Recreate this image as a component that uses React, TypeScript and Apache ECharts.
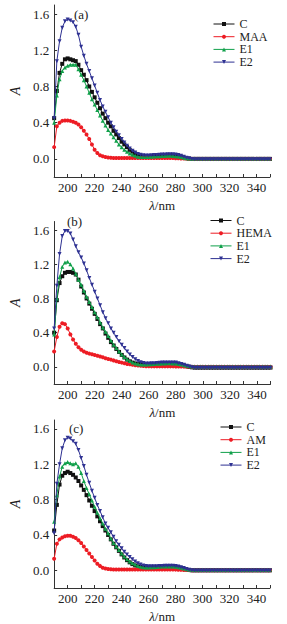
import React, { useEffect, useRef } from "react";
import * as echarts from "echarts";

const wavelengths = [190,192,194,196,198,200,202,204,206,208,210,212,214,216,218,220,222,224,226,228,230,232,234,236,238,240,242,244,246,248,250,252,254,256,258,260,262,264,266,268,270,272,274,276,278,280,282,284,286,288,290,292,294,296,298,300,302,304,306,308,310,312,314,316,318,320,322,324,326,328,330,332,334,336,338,340,342,344,346,348,350];

const xLabels = [200, 220, 240, 260, 280, 300, 320, 340];
const yLabels = [0, 0.4, 0.8, 1.2, 1.6];

// Panel (a)
const aC = [0.45,0.75,0.95,1.05,1.10,1.11,1.10,1.09,1.08,1.04,0.98,0.93,0.87,0.80,0.74,0.68,0.62,0.56,0.50,0.45,0.40,0.36,0.31,0.27,0.23,0.19,0.16,0.13,0.10,0.08,0.06,0.045,0.035,0.03,0.03,0.03,0.032,0.034,0.036,0.038,0.04,0.04,0.042,0.042,0.04,0.038,0.032,0.025,0.016,0.008,0.003,0,0,0,0,0,0,0,0,0,0,0,0,0,0,0,0,0,0,0,0,0,0,0,0,0,0,0,0,0,0];
const aMAA = [0.13,0.36,0.40,0.42,0.425,0.425,0.42,0.41,0.40,0.38,0.35,0.31,0.27,0.22,0.16,0.10,0.065,0.04,0.03,0.02,0.015,0.012,0.01,0.01,0.01,0.01,0.01,0.01,0.01,0.01,0.01,0.01,0.01,0.01,0.01,0.01,0.01,0.01,0.01,0.01,0.01,0.01,0.01,0.01,0.01,0.008,0.006,0.005,0.004,0.003,0.002,0,0,0,0,0,0,0,0,0,0,0,0,0,0,0,0,0,0,0,0,0,0,0,0,0,0,0,0,0,0];
const aE1 = [0.40,0.70,0.88,0.97,1.01,1.03,1.04,1.04,1.04,0.99,0.93,0.87,0.80,0.73,0.66,0.60,0.54,0.48,0.42,0.37,0.32,0.28,0.24,0.20,0.16,0.13,0.10,0.08,0.06,0.045,0.035,0.025,0.02,0.02,0.02,0.022,0.024,0.026,0.028,0.03,0.032,0.033,0.034,0.034,0.033,0.03,0.026,0.02,0.014,0.008,0.004,0.002,0.003,0.003,0.003,0.003,0.003,0.003,0.003,0.003,0.003,0.003,0.003,0.003,0.003,0.003,0.003,0.003,0.003,0.003,0.003,0.003,0.003,0.003,0.003,0.003,0.003,0.003,0.003,0.003,0.003];
const aE2 = [0.45,1.08,1.30,1.45,1.52,1.54,1.53,1.51,1.46,1.37,1.24,1.14,1.05,0.97,0.89,0.81,0.73,0.65,0.58,0.52,0.46,0.40,0.35,0.30,0.26,0.22,0.18,0.145,0.115,0.09,0.07,0.055,0.045,0.04,0.038,0.038,0.04,0.042,0.044,0.046,0.048,0.049,0.05,0.05,0.05,0.048,0.042,0.034,0.024,0.014,0.006,0,-0.004,-0.004,-0.004,-0.004,-0.004,-0.004,-0.004,-0.004,-0.004,-0.004,-0.004,-0.004,-0.004,-0.004,-0.004,-0.004,-0.004,-0.004,-0.004,-0.004,-0.004,-0.004,-0.004,-0.004,-0.004,-0.004,-0.004,-0.004,-0.004];

// Panel (b)
const bC = [0.40,0.78,0.98,1.06,1.10,1.11,1.11,1.10,1.08,1.02,0.94,0.87,0.80,0.74,0.68,0.62,0.56,0.50,0.45,0.39,0.34,0.29,0.25,0.21,0.175,0.14,0.11,0.085,0.065,0.05,0.04,0.032,0.028,0.027,0.028,0.03,0.032,0.034,0.036,0.038,0.04,0.041,0.042,0.042,0.041,0.039,0.034,0.026,0.017,0.008,0,-0.005,-0.008,-0.008,-0.008,-0.008,-0.008,-0.008,-0.008,-0.008,-0.008,-0.008,-0.008,-0.008,-0.008,-0.008,-0.008,-0.008,-0.008,-0.008,-0.008,-0.008,-0.008,-0.008,-0.008,-0.008,-0.008,-0.008,-0.008,-0.008,-0.008];
const bHEMA = [0.18,0.35,0.47,0.51,0.50,0.45,0.38,0.32,0.27,0.23,0.20,0.18,0.165,0.155,0.148,0.14,0.13,0.122,0.112,0.102,0.093,0.085,0.076,0.067,0.058,0.05,0.042,0.035,0.03,0.025,0.02,0.016,0.013,0.01,0.008,0.007,0.006,0.006,0.006,0.006,0.006,0.006,0.006,0.006,0.006,0.005,0.005,0.004,0.003,0.002,0.001,0,0,0,0,0,0,0,0,0,0,0,0,0,0,0,0,0,0,0,0,0,0,0,0,0,0,0,0,0,0];
const bE1 = [0.38,0.80,1.05,1.17,1.22,1.23,1.20,1.15,1.09,1.02,0.96,0.89,0.82,0.76,0.70,0.64,0.58,0.52,0.46,0.41,0.36,0.31,0.26,0.22,0.18,0.145,0.115,0.09,0.07,0.05,0.04,0.032,0.028,0.027,0.028,0.03,0.032,0.034,0.036,0.038,0.04,0.041,0.042,0.042,0.041,0.039,0.034,0.027,0.019,0.012,0.007,0.005,0.005,0.005,0.005,0.005,0.005,0.005,0.005,0.005,0.005,0.005,0.005,0.005,0.005,0.005,0.005,0.005,0.005,0.005,0.005,0.005,0.005,0.005,0.005,0.005,0.005,0.005,0.005,0.005,0.005];
const bE2 = [0.45,0.95,1.32,1.53,1.59,1.59,1.56,1.49,1.41,1.34,1.28,1.21,1.13,1.04,0.96,0.88,0.80,0.72,0.64,0.57,0.51,0.45,0.40,0.35,0.30,0.26,0.22,0.18,0.145,0.115,0.09,0.07,0.055,0.045,0.04,0.04,0.042,0.044,0.046,0.048,0.05,0.051,0.052,0.052,0.052,0.05,0.044,0.035,0.025,0.014,0.005,-0.005,-0.01,-0.01,-0.01,-0.01,-0.01,-0.01,-0.01,-0.01,-0.01,-0.01,-0.01,-0.01,-0.01,-0.01,-0.01,-0.01,-0.01,-0.01,-0.01,-0.01,-0.01,-0.01,-0.01,-0.01,-0.01,-0.01,-0.01,-0.01,-0.01];

// Panel (c)
const cC = [0.45,0.74,0.97,1.07,1.10,1.115,1.10,1.08,1.05,1.01,0.96,0.91,0.85,0.79,0.73,0.67,0.61,0.555,0.50,0.45,0.40,0.35,0.30,0.26,0.22,0.18,0.145,0.115,0.09,0.07,0.055,0.045,0.037,0.033,0.032,0.033,0.034,0.036,0.038,0.04,0.042,0.043,0.044,0.044,0.043,0.04,0.035,0.027,0.018,0.01,0.004,0,0,0,0,0,0,0,0,0,0,0,0,0,0,0,0,0,0,0,0,0,0,0,0,0,0,0,0,0,0];
const cAM = [0.13,0.30,0.35,0.37,0.385,0.39,0.39,0.38,0.365,0.34,0.31,0.27,0.23,0.19,0.15,0.11,0.075,0.05,0.03,0.02,0.015,0.012,0.01,0.01,0.01,0.01,0.01,0.01,0.01,0.01,0.01,0.01,0.01,0.01,0.01,0.01,0.01,0.01,0.01,0.01,0.01,0.01,0.01,0.01,0.01,0.008,0.006,0.005,0.004,0.003,0.002,0,0,0,0,0,0,0,0,0,0,0,0,0,0,0,0,0,0,0,0,0,0,0,0,0,0,0,0,0,0];
const cE1 = [0.55,0.85,1.06,1.17,1.21,1.225,1.21,1.20,1.21,1.17,1.10,1.01,0.93,0.86,0.79,0.72,0.65,0.59,0.53,0.47,0.42,0.36,0.31,0.27,0.23,0.19,0.155,0.125,0.10,0.08,0.065,0.05,0.04,0.035,0.033,0.033,0.034,0.036,0.038,0.04,0.042,0.043,0.044,0.044,0.043,0.04,0.035,0.028,0.02,0.012,0.007,0.005,0.005,0.005,0.005,0.005,0.005,0.005,0.005,0.005,0.005,0.005,0.005,0.005,0.005,0.005,0.005,0.005,0.005,0.005,0.005,0.005,0.005,0.005,0.005,0.005,0.005,0.005,0.005,0.005,0.005];
const cE2 = [0.42,0.98,1.20,1.38,1.47,1.50,1.49,1.46,1.43,1.36,1.27,1.18,1.08,0.99,0.90,0.82,0.74,0.67,0.60,0.53,0.48,0.43,0.38,0.33,0.29,0.25,0.21,0.18,0.15,0.125,0.10,0.08,0.065,0.055,0.048,0.045,0.045,0.046,0.047,0.048,0.05,0.051,0.052,0.052,0.052,0.05,0.044,0.035,0.025,0.014,0.006,0,-0.003,-0.003,-0.003,-0.003,-0.003,-0.003,-0.003,-0.003,-0.003,-0.003,-0.003,-0.003,-0.003,-0.003,-0.003,-0.003,-0.003,-0.003,-0.003,-0.003,-0.003,-0.003,-0.003,-0.003,-0.003,-0.003,-0.003,-0.003,-0.003];

const panels = [
  { label: "(a)", names: ["C", "MAA", "E1", "E2"], values: [aC, aMAA, aE1, aE2] },
  { label: "(b)", names: ["C", "HEMA", "E1", "E2"], values: [bC, bHEMA, bE1, bE2] },
  { label: "(c)", names: ["C", "AM", "E1", "E2"], values: [cC, cAM, cE1, cE2] },
];

const colors = ["#111111", "#ed1c24", "#10a04a", "#2e3192"];
const symbols = ["rect", "circle", "triangle", "triangle"];
const rotates = [0, 0, 0, 180];

// layout per panel
const grids = [
  { left: 38, top: 5, width: 232, height: 172 },
  { left: 38.5, top: 221.5, width: 232, height: 162.5 },
  { left: 37, top: 420, width: 233, height: 170 },
];
const legendPos = [
  { left: 213, top: 18 },
  { left: 210, top: 214.5 },
  { left: 220, top: 421 },
];
const labelPos = [
  { left: 74, top: 8 },
  { left: 67, top: 215 },
  { left: 69, top: 422 },
];

const FONT = "'Liberation Serif', 'Times New Roman', serif";

export default function App() {
  const ref = useRef<HTMLDivElement>(null);
  useEffect(() => {
    if (!ref.current) return;
    const chart = echarts.init(ref.current, null, { renderer: "svg" });
    const option: any = {
      animation: false,
      backgroundColor: "#ffffff",
      grid: grids.map((g) => ({ ...g, containLabel: false })),
      xAxis: grids.map((_, i) => ({
        type: "value",
        gridIndex: i,
        min: 190,
        max: 350,
        interval: 10,
        axisLine: { show: true, onZero: false, lineStyle: { color: "#333", width: 1 } },
        axisTick: { show: true, inside: true, length: 3, lineStyle: { color: "#333" } },
        axisLabel: {
          margin: 4,
          fontSize: 13,
          fontFamily: FONT,
          color: "#222",
          formatter: (v: number) => (xLabels.indexOf(Math.round(v)) >= 0 ? String(Math.round(v)) : ""),
        },
        splitLine: { show: false },
        name: "{i|λ}/nm",
        nameLocation: "middle",
        nameGap: 22,
        nameTextStyle: {
          fontSize: 13,
          fontFamily: FONT,
          color: "#222",
          rich: { i: { fontSize: 13, fontFamily: FONT, fontStyle: "italic", color: "#222" } },
        },
      })),
      yAxis: grids.map((_, i) => ({
        type: "value",
        gridIndex: i,
        min: -0.2,
        max: 1.7,
        axisLine: { show: true, onZero: false, lineStyle: { color: "#333", width: 1 } },
        axisTick: { show: true, inside: true, length: 3, customValues: yLabels, lineStyle: { color: "#333" } },
        axisLabel: {
          customValues: yLabels,
          margin: 5,
          fontSize: 13,
          fontFamily: FONT,
          color: "#222",
          formatter: (v: number) => v.toFixed(1),
        },
        splitLine: { show: false },
        name: "A",
        nameLocation: "middle",
        nameGap: 26,
        nameRotate: 90,
        nameTextStyle: { fontSize: 14, fontFamily: FONT, fontStyle: "italic", color: "#222" },
      })),
      legend: panels.map((p, i) => ({
        data: p.names,
        orient: "vertical",
        left: legendPos[i].left,
        top: legendPos[i].top,
        itemWidth: 21,
        itemHeight: 5,
        itemGap: 0.7,
        padding: 0,
        selectedMode: false,
        lineStyle: { width: 1 },
        textStyle: { fontSize: 12, fontFamily: FONT, color: "#222", lineHeight: 12 },
      })),
      graphic: panels.map((p, i) => ({
        type: "text",
        left: labelPos[i].left,
        top: labelPos[i].top,
        style: { text: p.label, font: `13px ${FONT}`, fill: "#222" },
      })),
      series: panels.flatMap((p, i) =>
        p.values.map((vals, k) => ({
          type: "line",
          name: p.names[k],
          xAxisIndex: i,
          yAxisIndex: i,
          data: wavelengths.map((w, j) => [w, vals[j]]),
          symbol: symbols[k],
          symbolRotate: rotates[k],
          symbolSize: 4,
          showSymbol: true,
          lineStyle: { width: 1, color: colors[k] },
          itemStyle: { color: colors[k] },
          z: 2 + k,
        }))
      ),
    };
    chart.setOption(option);
    return () => chart.dispose();
  }, []);
  return (
    <div
      ref={ref}
      style={{ position: "absolute", left: 0, top: 0, width: 287, height: 624 }}
    />
  );
}
